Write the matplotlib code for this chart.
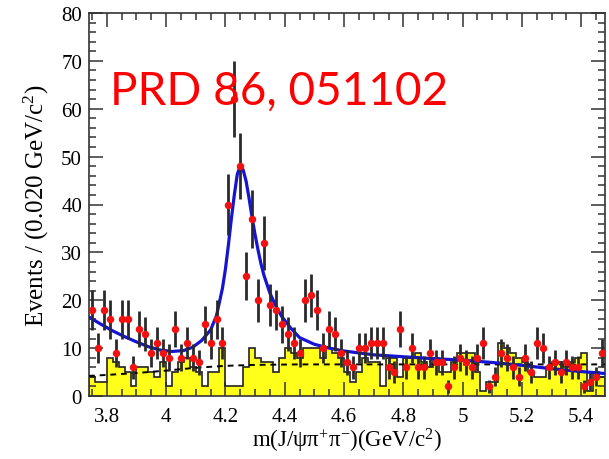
import numpy as np
import matplotlib

matplotlib.use("Agg")
import matplotlib.pyplot as plt
from matplotlib.ticker import MultipleLocator, FuncFormatter

# 20 MeV bins from 3.74 to 5.48 GeV/c^2
mass_lo, mass_hi, bin_w = 3.74, 5.48, 0.02

# candidate events per bin
counts = [
    18, 10, 18, 16, 9, 16, 16, 6, 14, 13, 9, 11, 9, 8, 14, 8, 11, 8, 7, 15, 11, 16, 11,
    40, 62, 48, 25, 37, 20, 32, 19, 18, 15, 13, 11,
    9, 20, 21, 18, 10, 14, 13, 9, 7, 6, 10, 10, 11, 11, 11, 6, 5, 14,
    6, 10, 6, 6, 9, 7, 7, 2, 6, 8, 7, 6, 8, 11, 2, 4, 9, 8, 6, 4,
    8, 5, 11, 10, 6, 7, 5, 7, 6, 6, 2, 3, 4, 9,
]

# J/psi sideband background per bin
sideband = [
    4, 3, 3, 8, 7, 6, 5, 2, 6, 6, 5, 4, 7, 2, 5, 7, 8, 6, 5, 2, 5, 5, 10,
    2, 2, 2, 6, 10, 8, 7, 7, 5, 8, 10, 9,
    8, 10, 10, 10, 8, 10, 9, 8, 5, 3, 5, 8, 7, 7, 2, 8, 8, 4,
    8, 8, 9, 7, 6, 8, 5, 5, 7, 9, 9, 9, 5, 1, 3, 3, 11, 10, 9, 8,
    7, 5, 4, 4, 6, 7, 7, 6, 7, 8, 9, 1, 5, 4,
]

# total fit (signal + background)
fit_m = [3.74, 3.78, 3.82, 3.86, 3.90, 3.94, 3.98, 4.02, 4.06, 4.09, 4.12, 4.15,
         4.17, 4.19, 4.20, 4.21, 4.22, 4.23, 4.24, 4.25, 4.26, 4.27, 4.28, 4.29,
         4.30, 4.31, 4.32, 4.33, 4.35, 4.37, 4.39, 4.42, 4.45, 4.50, 4.55, 4.60,
         4.65, 4.70, 4.80, 4.90, 5.00, 5.10, 5.20, 5.30, 5.40, 5.48]
fit_y = [16.5, 15.0, 13.6, 12.4, 11.3, 10.3, 9.6, 9.3, 9.5, 10.2, 11.6, 13.8,
         16.8, 22.5, 26.5, 31.5, 37.0, 42.0, 46.3, 48.0, 47.2, 44.8, 41.2, 37.3,
         33.7, 30.5, 27.6, 25.2, 21.5, 18.8, 16.6, 14.2, 12.2, 10.8, 10.0, 9.4,
         9.0, 8.6, 8.2, 7.8, 7.5, 7.0, 6.4, 5.7, 5.1, 4.7]

# non-resonant background component
bkg_m = [3.74, 3.80, 3.90, 4.00, 4.10, 4.20, 4.30, 4.45, 5.48]
bkg_y = [4.2, 4.4, 4.8, 5.3, 5.9, 6.3, 6.5, 6.6, 6.6]

plt.rcParams["font.family"] = ["Liberation Serif", "DejaVu Serif"]
plt.rcParams["mathtext.fontset"] = "custom"
plt.rcParams["mathtext.rm"] = "Liberation Serif"
plt.rcParams["mathtext.it"] = "Liberation Serif:italic"

n = len(counts)
edges = mass_lo + bin_w * np.arange(n + 1)
centers = 0.5 * (edges[:-1] + edges[1:])
counts = np.asarray(counts, dtype=float)
sideband = np.asarray(sideband, dtype=float)

fig = plt.figure(figsize=(6.09, 4.60), dpi=100)
ax = fig.add_axes([89 / 609, 63 / 460, 516 / 609, 383 / 460])

ax.stairs(sideband, edges, fill=True, color="#ffff1a", zorder=1)
ax.stairs(sideband, edges, baseline=0, color="#222222", lw=1.2, zorder=2)
ax.plot(bkg_m, bkg_y, ls=(0, (3, 2.5)), color="black", lw=1.4, zorder=3)
ax.plot(fit_m, fit_y, color="#1414d2", lw=2.3, zorder=4)
ax.errorbar(centers, counts, yerr=np.sqrt(counts), fmt="none", ecolor="#2a2a2a",
            elinewidth=2.0, capsize=0, zorder=5)
ax.plot(centers, counts, "o", color="#f21010", ms=5.4, mec="none", zorder=6)

ax.set_xlim(mass_lo, mass_hi)
ax.set_ylim(0, 80)
ax.xaxis.set_major_locator(MultipleLocator(0.2))
ax.xaxis.set_minor_locator(MultipleLocator(0.05))
ax.yaxis.set_major_locator(MultipleLocator(10))
ax.yaxis.set_minor_locator(MultipleLocator(2))
ax.xaxis.set_major_formatter(FuncFormatter(lambda v, _: f"{v:g}"))
ax.tick_params(which="both", direction="in", top=True, right=True,
               color="#333333", width=1.1, labelsize=15)
ax.tick_params(which="major", length=10)
ax.tick_params(which="minor", length=5)
ax.tick_params(axis="x", pad=8)
ax.tick_params(axis="y", pad=5)
for sp in ax.spines.values():
    sp.set_color("#333333")
    sp.set_linewidth(1.2)

ax.set_xlabel(r"m(J/ψπ$^{+}$π$^{-}$)(GeV/c$^{2}$)", fontsize=16.5, labelpad=0)
ax.set_ylabel(r"Events / (0.020 GeV/c$^{2}$)", fontsize=18, labelpad=7)

fig.text(110 / 609, 1 - 105 / 460, "PRD 86, 051102", color="#ff0000",
         fontsize=33, family=["Lato", "DejaVu Sans"], va="baseline", zorder=10)

fig.savefig("out.png", dpi=100)
